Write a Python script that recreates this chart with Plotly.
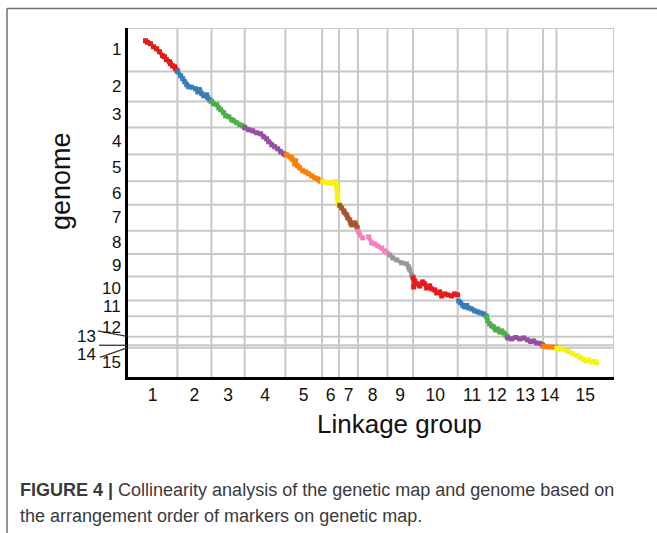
import plotly.graph_objects as go

# ---------------- data ----------------
lg_labels = [str(i) for i in range(1, 16)]
chrom_labels = [str(i) for i in range(1, 16)]
lg_lengths_cM = [98.8, 68, 66.6, 81.4, 73.2, 34, 38, 58.8, 51.2, 89.4, 57.4, 42, 71.2, 26.8, 115.2]
chrom_lengths_Mb = [4.34, 3.0, 2.6, 2.7, 2.68, 2.35, 2.6, 2.3, 2.27, 2.38, 1.58, 2.04, 0.86, 0.24, 2.93]
lg_colors = ["#e41a1c", "#377eb8", "#4daf4a", "#984ea3", "#ff7f00", "#f4f410", "#a65628", "#f781bf",
             "#999999", "#e41a1c", "#377eb8", "#4daf4a", "#984ea3", "#ff7f00", "#f4f410"]

# marker position on linkage group (cM) vs physical position on chromosome (Mb)
lg1_cM = [35, 39, 45, None, 51, 57, 63, 69, 73, 77, 83, 85, 89, 93, 95, 98.5]
lg1_Mb = [1.27, 1.42, 1.57, None, 1.87, 2.07, 2.37, 2.77, 2.87, 3.17, 3.37, 3.57, 3.77, 3.87, 4.07, 4.27]
lg2_cM = [0.6, 6.6, 10.6, 14.6, 18.6, 22.6, None, 28.6, None, 36.6, 40.6, 44.6, 48.6, 52.6, None, 58.6, 60.6, 64.6, 67.6]
lg2_Mb = [0.03, 0.43, 0.73, 1.03, 1.33, 1.53, None, 1.58, None, 1.73, 2.03, 1.83, 2.23, 2.43, None, 2.33, 2.63, 2.83, 2.98]
lg3_cM = [0.6, 4.6, 10.6, 14.6, 18.6, 24.6, 28.6, 34.6, 40.6, 44.6, 50.6, 56.6, 62.6, 66.6]
lg3_Mb = [0.03, 0.23, 0.33, 0.63, 0.83, 1.13, 1.43, 1.53, 1.83, 1.93, 2.13, 2.33, 2.43, 2.58]
lg4_cM = [0, 8, 16, 24, 32, 38, 44, 48, 54, 60, 66, 72, 78, 81]
lg4_Mb = [0.03, 0.23, 0.33, 0.53, 0.63, 0.93, 1.13, 1.43, 1.73, 1.93, 2.13, 2.43, 2.63, 2.73]
lg5_cM = [2.6, 8.6, 12.6, 14.6, 20.6, 18.6, 24.6, 28.6, 34.6, 40.6, 46.6, 52.6, 58.6, 64.6, 68.6, 72.6]
lg5_Mb = [0.03, 0.23, 0.33, 0.53, 0.63, 0.93, 1.13, 1.33, 1.63, 1.73, 1.93, 2.13, 2.33, 2.43, 2.63, 2.68]
lg6_cM = [1.4, 7.4, 13.4, 19.4, 25.4, 27.4, 28.4, 29.4, 30.4, 31.4, 30.6, 31.8, 33.4]
lg6_Mb = [0.03, 0.1, 0.15, 0.2, 0.15, 0.02, 0.3, 0.6, 0.9, 1.25, 1.6, 1.9, 2.25]
lg7_cM = [1.4, 5.4, 9.4, 11.4, 15.4, 17.4, 21.4, 23.4, 25.4, None, 31.4, 33.4, 36.4]
lg7_Mb = [0.05, 0.3, 0.6, 0.8, 1.0, 1.3, 1.5, 1.8, 2.0, None, 1.8, 2.0, 2.25]
lg8_cM = [0.4, 3.4, 9.4, None, 21.4, 27.4, 33.4, 39.4, 47.4, 53.4, 58.4]
lg8_Mb = [0.05, 0.4, 0.7, None, 0.6, 1.2, 1.3, 1.5, 1.7, 2.0, 2.2]
lg9_cM = [4.6, 10.6, 18.6, 28.6, 38.6, 42.6, 44.6, 48.6, 50.6]
lg9_Mb = [0.1, 0.4, 0.6, 0.9, 1.0, 1.3, 1.6, 2.1, 2.25]
lg10_cM = [0.4, 1.4, 3.4, 9.4, 13.4, 19.4, 23.4, 27.4, 33.4, 37.4, 43.4, 47.4, 53.4, 57.4, 63.4, 69.4, 77.4, 83.4, 89.2]
lg10_Mb = [0.13, 1.03, 0.43, 0.73, 0.93, 0.53, 0.73, 1.13, 0.93, 1.23, 1.33, 1.63, 1.53, 1.93, 1.73, 1.83, 1.93, 1.73, 1.83]
lg11_cM = [2, 6, 10, 14, 18, 22, 28, 34, 40, 46, 52, 57]
lg11_Mb = [0.05, 0.25, 0.5, 0.65, 0.5, 0.75, 0.85, 1.05, 1.15, 1.25, 1.35, 1.55]
lg12_cM = [0.6, 2.6, 6.6, 10.6, 14.6, 18.6, 22.6, 26.6, 30.6, 34.6, 38.6, 41.6]
lg12_Mb = [0.07, 0.47, 0.77, 0.97, 1.07, 1.37, 1.27, 1.57, 1.47, 1.67, 1.87, 2.02]
lg13_cM = [0.6, 8.6, 16.6, 24.6, 32.6, 40.6, 46.6, 52.6, 58.6, 64.6, 70.6]
lg13_Mb = [0.13, 0.23, 0.08, 0.23, 0.13, 0.33, 0.48, 0.43, 0.63, 0.68, 0.83]
lg14_cM = [1.4, 9.4, 17.4, 25.4]
lg14_Mb = [0.12, 0.17, 0.17, 0.19]
lg15_cM = [0.6, 8.6, 16.6, 24.6, 32.6, 40.6, 46.6, 52.6, 58.6, 64.6, 70.6, 76.6, 80.6]
lg15_Mb = [0.06, 0.13, 0.23, 0.38, 0.58, 0.78, 0.93, 1.13, 1.33, 1.23, 1.43, 1.38, 1.53]

lg_cM = [lg1_cM, lg2_cM, lg3_cM, lg4_cM, lg5_cM, lg6_cM, lg7_cM, lg8_cM, lg9_cM, lg10_cM,
         lg11_cM, lg12_cM, lg13_cM, lg14_cM, lg15_cM]
lg_Mb = [lg1_Mb, lg2_Mb, lg3_Mb, lg4_Mb, lg5_Mb, lg6_Mb, lg7_Mb, lg8_Mb, lg9_Mb, lg10_Mb,
         lg11_Mb, lg12_Mb, lg13_Mb, lg14_Mb, lg15_Mb]

caption_bold = "FIGURE 4 |"
caption_line1 = " Collinearity analysis of the genetic map and genome based on"
caption_line2 = "the arrangement order of markers on genetic map."

# ---------------- derived offsets ----------------
x_off = [0.0]
for v in lg_lengths_cM:
    x_off.append(x_off[-1] + v)
y_off = [0.0]
for v in chrom_lengths_Mb:
    y_off.append(y_off[-1] + v)
X_TOT = x_off[-1]
Y_TOT = y_off[-1]

W, H = 657, 533
ML, MR, MT, MB = 128, 43, 28, 156
PW, PH = W - ML - MR, H - MT - MB

def pxx(px):
    return (px - ML) / PW

def pxy(py):
    return 1 - (py - MT) / PH

def ypaper(mb):
    return 1 - mb / Y_TOT

fig = go.Figure()
for i in range(15):
    xs = [None if c is None else c + x_off[i] for c in lg_cM[i]]
    ys = [None if m is None else m + y_off[i] for m in lg_Mb[i]]
    fig.add_trace(go.Scatter(
        x=xs, y=ys, mode="lines+markers",
        line=dict(color=lg_colors[i], width=4),
        marker=dict(color=lg_colors[i], size=5, symbol="square"),
        showlegend=False, hoverinfo="skip"))

shapes = []
grid = dict(color="#c8c8c8", width=2)
for b in x_off[1:]:
    shapes.append(dict(type="line", xref="x", yref="paper", x0=b, x1=b, y0=0, y1=1,
                       line=grid, layer="below"))
for b in y_off[:-1]:
    shapes.append(dict(type="line", xref="paper", yref="y", x0=0, x1=1, y0=b, y1=b,
                       line=grid, layer="below"))

# leader lines for labels 13 and 14
lead = dict(color="#3b3030", width=1.3)
b13 = ypaper(y_off[12])
b1314 = ypaper(y_off[13])
b14 = ypaper(y_off[14])
shapes.append(dict(type="line", xref="paper", yref="paper", x0=pxx(98), x1=pxx(127),
                   y0=b13 + 5.7 / PH, y1=b13 + 0.4 / PH, line=lead))
shapes.append(dict(type="line", xref="paper", yref="paper", x0=pxx(99), x1=pxx(127),
                   y0=b1314, y1=b1314, line=lead))
shapes.append(dict(type="line", xref="paper", yref="paper", x0=pxx(100), x1=pxx(127),
                   y0=b14 - 9.6 / PH, y1=b14 - 0.2 / PH, line=lead))

# outer figure frame (top and left)
frame = dict(color="#6e6e6e", width=1.5)
shapes.append(dict(type="line", xref="paper", yref="paper", x0=pxx(7), x1=pxx(660),
                   y0=pxy(8.5), y1=pxy(8.5), line=frame))
shapes.append(dict(type="line", xref="paper", yref="paper", x0=pxx(7), x1=pxx(7),
                   y0=pxy(8.5), y1=pxy(540), line=frame))

FONT = "Liberation Sans, Arial, sans-serif"
TICKFONT = dict(family=FONT, size=17.5, color="#111")
YTICKFONT = dict(family=FONT, size=17, color="#111")

x_mid = [(x_off[i] + x_off[i + 1]) / 2 for i in range(15)]
y_mid = [(y_off[i] + y_off[i + 1]) / 2 for i in range(15)]
y_nudge = {10: 1.5, 11: -1.5}

annotations = []
# genome (y) tick labels as horizontal text
for i in range(15):
    if i in (12, 13):
        continue
    annotations.append(dict(text=chrom_labels[i], xref="paper", yref="y", x=pxx(123), y=y_mid[i],
                            yshift=y_nudge.get(i, 0),
                            xanchor="right", yanchor="middle", showarrow=False, font=YTICKFONT))
annotations += [
    dict(text=chrom_labels[12], xref="paper", yref="y", x=pxx(86), y=y_off[13], yshift=9,
         xanchor="center", yanchor="middle", showarrow=False, font=YTICKFONT),
    dict(text=chrom_labels[13], xref="paper", yref="y", x=pxx(86), y=y_off[13], yshift=-9.5,
         xanchor="center", yanchor="middle", showarrow=False, font=YTICKFONT),
    dict(text="genome", xref="paper", yref="paper", x=pxx(61), y=pxy(181), textangle=-90,
         xanchor="center", yanchor="middle",
         showarrow=False, font=dict(family=FONT, size=27, color="#111")),
    dict(text="Linkage group", xref="paper", yref="paper", x=pxx(399), y=pxy(424),
         xanchor="center", yanchor="middle",
         showarrow=False, font=dict(family=FONT, size=26, color="#111")),
    dict(text="<b>" + caption_bold + "</b>" + caption_line1, xref="paper", yref="paper",
         x=pxx(18), y=pxy(490), xanchor="left", yanchor="middle", showarrow=False,
         font=dict(family=FONT, size=18, color="#3a3a3a")),
    dict(text=caption_line2, xref="paper", yref="paper",
         x=pxx(18), y=pxy(516), xanchor="left", yanchor="middle", showarrow=False,
         font=dict(family=FONT, size=18, color="#3a3a3a")),
]

fig.update_layout(
    width=W, height=H, margin=dict(l=ML, r=MR, t=MT, b=MB, pad=0),
    paper_bgcolor="white", plot_bgcolor="white",
    shapes=shapes, annotations=annotations,
    xaxis=dict(range=[0, X_TOT], showgrid=False, zeroline=False, showline=True,
               linecolor="black", linewidth=3, ticks="", tickvals=x_mid, ticktext=lg_labels,
               tickangle=0, tickfont=TICKFONT),
    yaxis=dict(range=[Y_TOT, 0], showgrid=False, zeroline=False, showline=True,
               linecolor="black", linewidth=3, ticks="", showticklabels=False),
)

fig.write_html("out.html")
